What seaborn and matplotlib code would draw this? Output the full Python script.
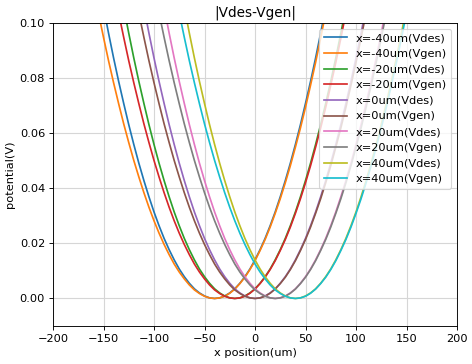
import seaborn as sns
import pandas as pd
import matplotlib.pyplot as plt

# centres of the wells (um)
centers = [-40, -20, 0, 20, 40]

# offset from the centre (um), every 5 um from -120 to 120
offsets = list(range(-120, 125, 5))

# potential (V) at each offset
vdes_profile = [0.1258, 0.1155, 0.1057, 0.0963, 0.0873, 0.0788, 0.0708, 0.0631,
                0.0559, 0.0491, 0.0428, 0.0369, 0.0314, 0.0264, 0.0218, 0.0177,
                0.0140, 0.0107, 0.0079, 0.0055, 0.0035, 0.0020, 0.0009, 0.0002,
                0.0,
                0.0002, 0.0009, 0.0020, 0.0035, 0.0055, 0.0079, 0.0107, 0.0140,
                0.0177, 0.0218, 0.0264, 0.0314, 0.0369, 0.0428, 0.0491, 0.0559,
                0.0631, 0.0708, 0.0788, 0.0873, 0.0963, 0.1057, 0.1155, 0.1258]
vgen_profile = [0.1128, 0.1036, 0.0948, 0.0863, 0.0783, 0.0707, 0.0634, 0.0566,
                0.0501, 0.0441, 0.0384, 0.0331, 0.0282, 0.0237, 0.0196, 0.0159,
                0.0125, 0.0096, 0.0071, 0.0049, 0.0031, 0.0018, 0.0008, 0.0002,
                0.0,
                0.0002, 0.0008, 0.0019, 0.0034, 0.0054, 0.0077, 0.0105, 0.0137,
                0.0174, 0.0214, 0.0259, 0.0309, 0.0362, 0.0420, 0.0482, 0.0549,
                0.0619, 0.0694, 0.0774, 0.0857, 0.0945, 0.1037, 0.1134, 0.1235]

rows = []
labels = []
for c in centers:
    for kind, prof in (("Vdes", vdes_profile), ("Vgen", vgen_profile)):
        lab = "x=%dum(%s)" % (c, kind)
        labels.append(lab)
        for d, v in zip(offsets, prof):
            rows.append({"x": c + d, "V": v, "label": lab})
df = pd.DataFrame(rows)

dpi = 81.5
fig = plt.figure(figsize=(472 / dpi, 364 / dpi), dpi=dpi)
ax = fig.add_axes([53 / 472, 1 - 326 / 364, 404 / 472, 303 / 364])

sns.lineplot(data=df, x="x", y="V", hue="label", hue_order=labels,
             palette="tab10", sort=False, estimator=None, ax=ax, linewidth=1.5)

ax.set_xlim(-200, 200)
ax.set_ylim(-0.01, 0.1)
ax.grid(True, color="#d6d6d6", linewidth=1.0)
ax.set_axisbelow(True)
ax.set_title("|Vdes-Vgen|")
ax.set_xlabel("x position(um)")
ax.set_ylabel("potential(V)")
handles, labs = ax.get_legend_handles_labels()
ax.legend(handles, labs, loc="upper right")

fig.savefig("out.png", dpi=dpi)
